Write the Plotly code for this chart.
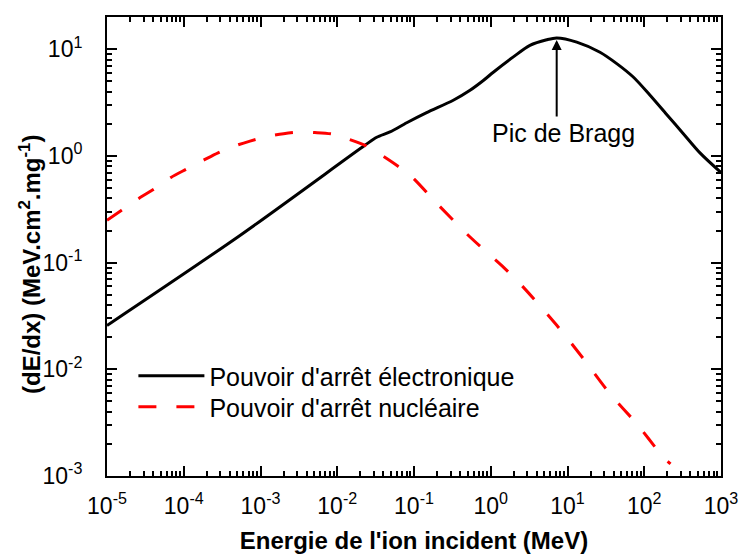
import math
import plotly.graph_objects as go

# ---- data ----
energy_elec = [1e-5, 5.4e-4, 0.0229, 0.0327, 0.0486, 0.0804, 0.146, 0.325, 0.537, 0.80,
               1.08, 1.97, 3.24, 5.36, 7.23, 13.2, 26.5, 43.8, 71.9, 119, 196, 323, 532, 1000]
stop_elec = [0.0258, 0.180, 1.26, 1.50, 1.68, 2.05, 2.55, 3.33, 4.13, 5.1,
             6.1, 8.5, 10.9, 12.3, 12.8, 11.7, 9.4, 7.35, 5.5, 3.71, 2.45, 1.62, 1.07, 0.70]

energy_nucl = [1e-5, 1.55e-5, 2.6e-5, 4.1e-5, 6.8e-5, 1.07e-4, 1.8e-4, 2.8e-4, 4.9e-4, 7.3e-4,
               1.26e-3, 2.0e-3, 3.3e-3, 5.1e-3, 8.9e-3, 1.4e-2, 2.3e-2, 3.6e-2, 6.2e-2, 9.3e-2,
               0.198, 0.537, 1.46, 2.65, 7.2, 16.1, 35.8, 79.4, 178, 220]
stop_nucl = [0.25, 0.31, 0.40, 0.49, 0.63, 0.75, 0.91, 1.07, 1.26, 1.38,
             1.53, 1.62, 1.68, 1.66, 1.60, 1.44, 1.26, 1.04, 0.80, 0.64,
             0.36, 0.174, 0.091, 0.059, 0.026, 0.0126, 0.0059, 0.0031, 0.0015, 0.0013]

x_tickvals = [1e-5, 1e-4, 1e-3, 1e-2, 1e-1, 1e0, 1e1, 1e2, 1e3]
x_ticktext = ["10<sup>-5</sup>", "10<sup>-4</sup>", "10<sup>-3</sup>", "10<sup>-2</sup>",
              "10<sup>-1</sup>", "10<sup>0</sup>", "10<sup>1</sup>", "10<sup>2</sup>", "10<sup>3</sup>"]
y_tickvals = [1e-3, 1e-2, 1e-1, 1e0, 1e1]
y_ticktext = ["10<sup>-3</sup>", "10<sup>-2</sup>", "10<sup>-1</sup>", "10<sup>0</sup>", "10<sup>1</sup>"]

name_elec = "Pouvoir d'arrêt électronique"
name_nucl = "Pouvoir d'arrêt nucléaire"
peak_label = "Pic de Bragg"
x_title = "Energie de l'ion incident (MeV)"
y_title = "(dE/dx) (MeV.cm<sup>2</sup>.mg<sup>-1</sup>)"

FONT = "Arial, 'Liberation Sans', sans-serif"

fig = go.Figure()
fig.add_trace(go.Scatter(x=energy_elec, y=stop_elec, mode="lines", name=name_elec,
                         legend="legend",
                         line=dict(color="black", width=3, shape="spline", smoothing=0.8)))
fig.add_trace(go.Scatter(x=energy_nucl, y=stop_nucl, mode="lines", name=name_nucl,
                         legend="legend2",
                         line=dict(color="#ff0000", width=3, dash="18px,20px",
                                   shape="spline", smoothing=0.8)))

i_peak = max(range(len(stop_elec)), key=lambda i: stop_elec[i])
fig.add_annotation(x=math.log10(energy_elec[i_peak]), y=math.log10(stop_elec[i_peak]),
                   xref="x", yref="y", text="", showarrow=True, arrowhead=2,
                   arrowsize=1, arrowwidth=2, arrowcolor="black", ax=0, ay=80,
                   standoff=2)
fig.add_annotation(x=math.log10(energy_elec[i_peak]), y=math.log10(stop_elec[i_peak]),
                   xref="x", yref="y", text=peak_label, showarrow=False,
                   xshift=7, yshift=-95, font=dict(family=FONT, size=25, color="black"))

# y-axis title (placed as rotated text, slightly below the axis centre as in the reference)
fig.add_annotation(x=0, y=(476 - 265) / 459, xref="paper", yref="paper",
                   text=y_title, textangle=-90, showarrow=False,
                   xanchor="center", yanchor="middle", xshift=-77,
                   font=dict(family=FONT, size=24, color="black", weight="bold"))

axis_common = dict(
    type="log", showline=True, linecolor="black", linewidth=2, mirror="allticks",
    ticks="inside", ticklen=10, tickwidth=1.5, tickcolor="black",
    showgrid=False, zeroline=False, tickmode="array",
    tickfont=dict(family=FONT, size=23, color="black"),
    minor=dict(ticks="inside", ticklen=5, tickwidth=1.5, tickcolor="black",
               dtick="D1", showgrid=False),
)

fig.update_xaxes(**axis_common, range=[-5, 3], tickvals=x_tickvals, ticktext=x_ticktext,
                 ticklabelstandoff=8,
                 title=dict(text=x_title, standoff=15,
                            font=dict(family=FONT, size=24, color="black", weight="bold")))
fig.update_yaxes(**axis_common, range=[-3, math.log10(20.1)], tickvals=y_tickvals,
                 ticktext=y_ticktext, ticklabelstandoff=18)

leg_common = dict(xanchor="left", yanchor="middle", bgcolor="rgba(0,0,0,0)", borderwidth=0,
                  font=dict(family=FONT, size=25, color="black"), itemwidth=66)

fig.update_layout(
    width=741, height=556,
    margin=dict(l=107, r=20, t=17, b=80, autoexpand=False),
    paper_bgcolor="white", plot_bgcolor="white",
    showlegend=True,
    legend=dict(x=0.043, y=(476 - 376) / 459, **leg_common),
    legend2=dict(x=0.043, y=(476 - 407) / 459, **leg_common),
    font=dict(family=FONT, color="black"),
)

fig.write_html("out.html", config={"displayModeBar": False},
               post_script="document.body.style.margin='0px';document.body.style.padding='0px';")
